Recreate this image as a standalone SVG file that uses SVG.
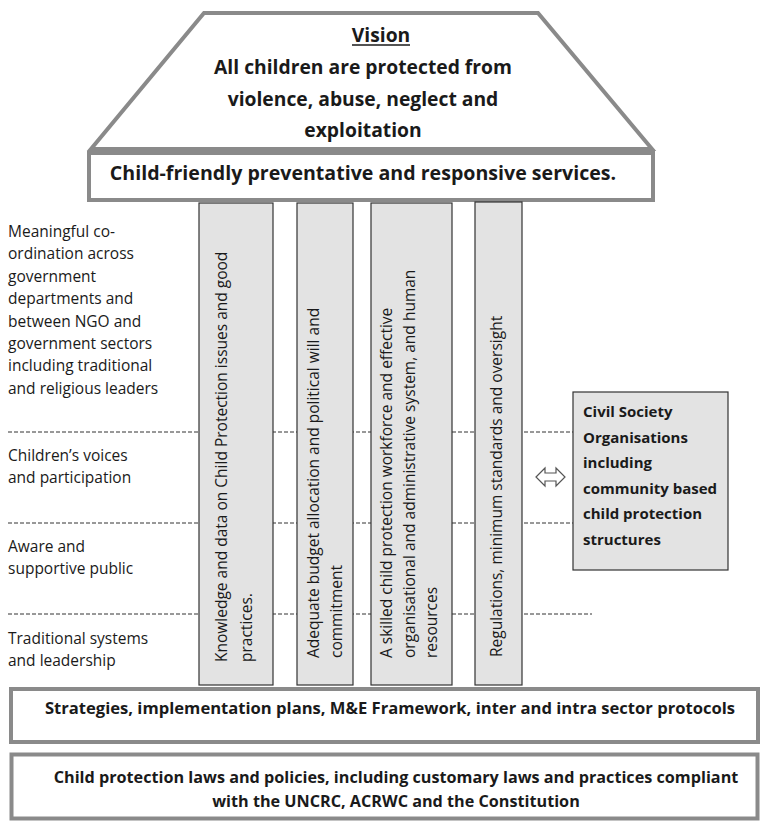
<svg xmlns="http://www.w3.org/2000/svg" width="764" height="822" viewBox="0 0 764 822">
<style>
.frame{fill:#fff;stroke:#8a8a8a;stroke-width:4}
.col{fill:#e3e3e3;stroke:#333;stroke-width:1.2}
.dash{stroke:#333;stroke-width:1;stroke-dasharray:4 2;fill:none}
.t{font-family:"Open Sans","Liberation Sans",sans-serif;fill:#1a1a1a}
.b{font-weight:bold}
.lab{font-size:15.5px}
.rot{font-size:15.5px}
.c{text-anchor:middle}
</style>
<rect width="764" height="822" fill="#fff"/>
<g id="vision">
<polygon class="frame" points="204,13 538,13 652,149 91,149"/>
<text class="t b c" x="381" y="42" font-size="19.3">Vision</text>
<line x1="352" y1="45" x2="410" y2="45" stroke="#1a1a1a" stroke-width="1.5"/>
<text class="t b c" x="363" y="74" font-size="19.3">All children are protected from</text>
<text class="t b c" x="363" y="106" font-size="19.3">violence, abuse, neglect and</text>
<text class="t b c" x="363" y="137" font-size="19.3">exploitation</text>
</g>
<g id="services">
<rect class="frame" x="89" y="153" width="564" height="47"/>
<text class="t b c" x="363" y="180" font-size="19.6">Child-friendly preventative and responsive services.</text>
</g>
<g id="connectors">
<line class="dash" x1="8" y1="432" x2="573" y2="432"/>
<line class="dash" x1="8" y1="523" x2="573" y2="523"/>
<line class="dash" x1="8" y1="614" x2="592" y2="614"/>
<polygon points="536,477 545,468 545,473 556,473 556,468 565,477 556,486 556,481 545,481 545,486" fill="#fff" stroke="#555" stroke-width="1.2"/>
</g>
<g id="labels">
<text class="t lab"><tspan x="8" y="237">Meaningful co-</tspan><tspan x="8" y="259.4">ordination across</tspan><tspan x="8" y="281.8">government</tspan><tspan x="8" y="304.2">departments and</tspan><tspan x="8" y="326.6">between NGO and</tspan><tspan x="8" y="349">government sectors</tspan><tspan x="8" y="371.4">including traditional</tspan><tspan x="8" y="393.8">and religious leaders</tspan></text>
<text class="t lab"><tspan x="8" y="461">Children’s voices</tspan><tspan x="8" y="483">and participation</tspan></text>
<text class="t lab"><tspan x="8" y="552">Aware and</tspan><tspan x="8" y="574">supportive  public</tspan></text>
<text class="t lab"><tspan x="8" y="644">Traditional systems</tspan><tspan x="8" y="666">and leadership</tspan></text>
</g>
<g id="col-knowledge">
<rect class="col" x="199" y="203" width="74" height="482"/>
<text class="t rot" transform="translate(227,662) rotate(-90)"><tspan x="0" y="0">Knowledge and data on Child Protection issues and good</tspan><tspan x="0" y="25">practices.</tspan></text>
</g>
<g id="col-budget">
<rect class="col" x="297" y="203" width="56" height="482"/>
<text class="t rot" transform="translate(319,658) rotate(-90)"><tspan x="0" y="0">Adequate budget allocation and political will and</tspan><tspan x="0" y="22.5">commitment</tspan></text>
</g>
<g id="col-workforce">
<rect class="col" x="371" y="203" width="81" height="482"/>
<text class="t rot" transform="translate(392,658) rotate(-90)"><tspan x="0" y="0">A skilled child protection workforce and effective</tspan><tspan x="0" y="22.5">organisational and administrative system, and human</tspan><tspan x="0" y="45">resources</tspan></text>
</g>
<g id="col-regulations">
<rect class="col" x="475" y="202" width="47" height="483"/>
<text class="t rot" transform="translate(502,657) rotate(-90)">Regulations, minimum standards and oversight</text>
</g>
<g id="cso">
<rect class="col" x="573" y="392" width="155" height="178"/>
<text class="t b" font-size="15"><tspan x="583" y="417">Civil Society</tspan><tspan x="583" y="442.5">Organisations</tspan><tspan x="583" y="468">including</tspan><tspan x="583" y="493.5">community based</tspan><tspan x="583" y="519">child protection</tspan><tspan x="583" y="544.5">structures</tspan></text>
</g>
<g id="strategies">
<rect class="frame" x="11" y="689" width="747" height="53"/>
<text class="t b c" x="390" y="714" font-size="16.6">Strategies, implementation plans, M&amp;E Framework,  inter and intra sector protocols</text>
</g>
<g id="laws">
<rect class="frame" x="11.5" y="754.5" width="746" height="64" stroke-width="5"/>
<text class="t b c" font-size="16.2"><tspan x="396" y="783">Child protection laws and policies, including customary laws and practices compliant</tspan><tspan x="396" y="807">with the UNCRC, ACRWC and the Constitution</tspan></text>
</g>
</svg>
